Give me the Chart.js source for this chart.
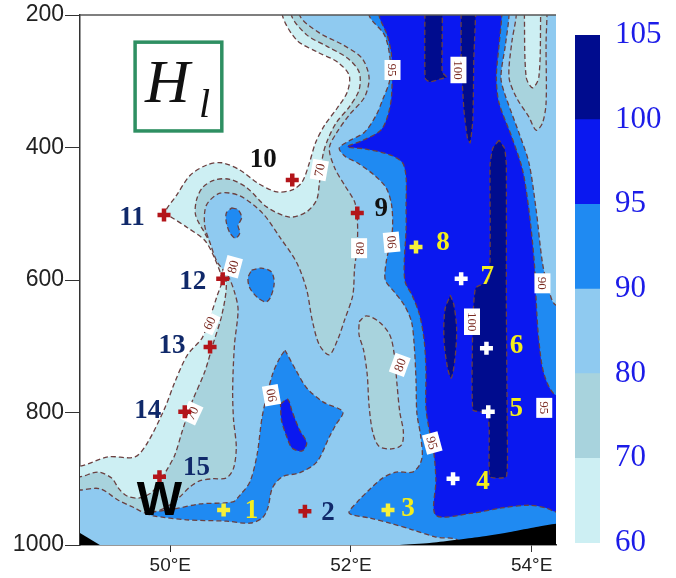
<!DOCTYPE html>
<html>
<head>
<meta charset="utf-8">
<script src="https://cdn.jsdelivr.net/npm/chart.js@4.4.1/dist/chart.umd.min.js"></script>
<style>
  html, body { margin: 0; padding: 0; background: #fff; }
  #wrap { position: relative; width: 676px; height: 578px; }
  #map { position: absolute; left: 0; top: 0; }
  #bar { position: absolute; left: 575px; top: 0; }
</style>
</head>
<body>
<div id="wrap">
  <canvas id="map" width="676" height="578"></canvas>
  <canvas id="bar" width="101" height="578"></canvas>
</div>
<script>
// colour levels of the shading
const levels = [60, 70, 80, 90, 95, 100, 105];
const levelColors = ['#cdeff3', '#a8d3dd', '#8fcaf0', '#1f8af2', '#0a18f0', '#000c8e'];
const xTicks = [50, 52, 54];
const yTicks = [200, 400, 600, 800, 1000];

// filled contour outlines, [lon °E, pressure]
const area60 = [[51.24,150],[51.24,200],[51.40,238],[51.63,256],[51.85,271],[51.98,291],[51.96,316],[51.85,340],[51.71,366],[51.61,392],[51.54,423],[51.46,452],[51.35,464],[51.18,467],[50.97,454],[50.77,434],[50.57,423],[50.41,426],[50.22,442],[50.07,472],[49.94,499],[50.02,506],[50.19,521],[50.38,540],[50.49,567],[50.57,600],[50.52,623],[50.41,668],[50.35,688],[50.19,713],[50.05,754],[49.94,793],[49.75,845],[49.61,867],[49.31,867],[49.00,881],[48.70,881],[48.70,1050],[54.60,1050],[54.60,150],[51.24,150]];
const area70 = [[51.34,150],[51.34,200],[51.51,230],[51.73,247],[51.96,265],[52.09,286],[52.09,313],[51.98,339],[51.84,362],[51.74,389],[51.69,411],[51.65,454],[51.62,479],[51.51,497],[51.32,505],[51.07,490],[50.85,461],[50.66,448],[50.49,449],[50.36,460],[50.29,479],[50.28,502],[50.38,529],[50.49,555],[50.57,580],[50.62,608],[50.57,653],[50.47,698],[50.38,739],[50.24,784],[50.13,829],[50.05,864],[49.96,887],[49.88,905],[49.80,920],[49.66,929],[49.52,926],[49.43,915],[49.35,899],[49.20,890],[49.00,897],[48.70,897],[48.70,1050],[54.60,1050],[54.60,150],[51.34,150]];
const area80 = [[51.43,150],[51.43,200],[51.65,227],[51.91,245],[52.12,265],[52.20,294],[52.15,324],[51.98,351],[51.84,378],[51.76,401],[51.82,431],[51.93,457],[52.04,482],[52.07,506],[52.07,547],[52.04,582],[52.02,623],[51.93,660],[51.85,691],[51.76,713],[51.65,698],[51.57,660],[51.51,615],[51.40,574],[51.21,535],[51.02,499],[50.77,473],[50.55,469],[50.40,487],[50.38,517],[50.44,544],[50.52,573],[50.64,594],[50.71,618],[50.75,645],[50.71,698],[50.69,766],[50.70,811],[50.73,852],[50.70,884],[50.62,899],[50.47,900],[50.33,903],[50.22,912],[50.10,928],[49.94,944],[49.74,952],[49.59,943],[49.42,932],[49.22,915],[49.00,917],[48.70,917],[48.70,1050],[54.60,1050],[54.60,150],[51.43,150]];
const area90 = [[52.20,150],[52.20,200],[52.37,230],[52.43,263],[52.43,298],[52.35,328],[52.28,351],[52.15,377],[51.98,390],[51.87,401],[51.94,414],[52.07,423],[52.26,442],[52.39,461],[52.45,487],[52.46,522],[52.43,547],[52.39,573],[52.38,600],[52.48,618],[52.59,638],[52.67,663],[52.70,698],[52.72,751],[52.73,801],[52.77,834],[52.79,864],[52.76,879],[52.68,890],[52.50,890],[52.35,899],[52.20,917],[52.07,935],[51.98,952],[52.20,959],[52.43,967],[52.68,977],[52.94,988],[53.20,994],[53.42,1050],[54.60,1050],[54.60,638],[54.27,638],[54.19,615],[54.12,574],[54.05,494],[53.97,423],[53.86,378],[53.70,318],[53.66,294],[53.71,245],[53.75,200],[53.75,150],[52.20,150]];
const area90b = [[50.68,491],[50.75,494],[50.79,506],[50.75,518],[50.77,529],[50.72,537],[50.66,529],[50.62,513],[50.62,499],[50.68,491]];
const area90c = [[50.90,585],[51.01,582],[51.12,588],[51.15,605],[51.11,626],[51.06,633],[50.97,627],[50.88,612],[50.86,597],[50.90,585]];
const area90d = [[51.27,706],[51.39,736],[51.51,763],[51.69,784],[51.91,799],[51.83,819],[51.76,837],[51.62,875],[51.43,891],[51.24,897],[51.13,914],[51.08,944],[51.02,959],[50.88,967],[50.62,964],[50.18,962],[49.81,956],[49.74,952],[50.03,946],[50.33,938],[50.69,935],[50.77,925],[50.88,905],[50.96,864],[51.02,804],[51.13,743],[51.21,718],[51.27,706]];
const area95 = [[52.31,150],[52.31,200],[52.40,230],[52.45,263],[52.45,321],[52.41,351],[52.33,374],[52.12,390],[51.96,399],[52.15,402],[52.43,411],[52.57,423],[52.61,445],[52.61,487],[52.61,525],[52.59,573],[52.60,603],[52.68,624],[52.76,653],[52.81,691],[52.83,736],[52.83,793],[52.87,829],[52.92,864],[52.94,902],[52.94,955],[53.34,952],[53.67,944],[53.97,940],[54.16,944],[54.27,950],[54.60,950],[54.60,774],[54.27,774],[54.14,743],[54.08,691],[54.05,630],[54.03,574],[53.97,494],[53.90,434],[53.78,384],[53.64,333],[53.61,294],[53.64,245],[53.67,200],[53.67,150],[52.31,150]];
const area95b = [[51.22,787],[51.30,780],[51.35,799],[51.43,826],[51.51,846],[51.46,858],[51.35,854],[51.29,837],[51.23,811],[51.22,787]];
const area100a = [[52.82,150],[52.82,295],[52.87,301],[52.98,297],[53.06,294],[53.01,286],[53.00,150],[52.82,150]];
const area100b = [[53.22,150],[53.22,268],[53.25,343],[53.29,386],[53.32,393],[53.35,358],[53.36,268],[53.38,150],[53.22,150]];
const area100c = [[53.64,389],[53.57,401],[53.54,426],[53.53,600],[53.38,612],[53.35,660],[53.35,796],[53.51,801],[53.53,826],[53.54,897],[53.72,897],[53.73,826],[53.72,630],[53.72,426],[53.70,401],[53.64,389]];
const area100d = [[53.10,623],[53.14,638],[53.17,675],[53.15,721],[53.11,748],[53.07,733],[53.03,691],[53.04,645],[53.10,623]];
// closed lows painted over the higher shading
const low80 = [[52.09,663],[52.17,654],[52.31,663],[52.43,683],[52.48,713],[52.51,758],[52.54,799],[52.58,829],[52.56,849],[52.45,855],[52.31,851],[52.24,829],[52.20,789],[52.18,743],[52.14,706],[52.09,683],[52.09,663]];
const low80r = [[53.83,150],[53.83,200],[53.78,242],[53.75,294],[53.83,324],[53.97,354],[54.05,374],[54.12,363],[54.16,333],[54.16,242],[54.17,200],[54.17,150],[53.83,150]];
const low70r = [[53.92,150],[53.92,200],[53.94,294],[54.01,310],[54.08,294],[54.10,200],[54.10,150],[53.92,150]];
// terrain
const groundR = [[52.54,1000],[52.87,997],[53.42,988],[53.78,980],[54.05,973],[54.27,968],[54.60,968],[54.60,1050],[52.54,1050],[52.54,1000]];
const groundL = [[49.00,982],[49.22,1000],[49.22,1050],[48.70,1050],[48.70,982],[49.00,982]];

// stations
const stationNames = ['1','2','3','4','5','6','7','8','9','10','11','12','13','14','15'];
const stationLon = [50.59, 51.49, 52.41, 53.13, 53.52, 53.50, 53.22, 52.72, 52.07, 51.35, 49.93, 50.58, 50.44, 50.16, 49.88];
const stationP = [947, 949, 947, 900, 799, 703, 598, 550, 499, 449, 502, 598, 701, 799, 897];
const stationKind = ['y','r','y','w','w','w','w','y','r','r','r','r','r','r','r'];
const nameDx = [28, 23, 20, 30, 28, 30, 26, 27, 24, -29, -32, -30, -38, -37, 37];
const nameDy = [0, 1, -2, 2, -4, -3, -3, -5, -5, -21, 2, 2, -2, -2, -10];
const nameColor = ['#f4ee1c','#10296a','#f4ee1c','#f4ee1c','#f4ee1c','#f4ee1c','#f4ee1c','#f4ee1c','#111','#111','#10296a','#10296a','#10296a','#10296a','#10296a'];

// contour labels
const ctText = ['95','100','70','80','60','70','90','80','90','80','95','95','100','90'];
const ctLon = [52.46, 53.19, 51.65, 50.69, 50.43, 50.24, 52.45, 52.09, 51.12, 52.54, 52.90, 54.14, 53.34, 54.12];
const ctP = [283, 283, 434, 580, 665, 801, 543, 552, 774, 728, 846, 793, 663, 605];
const ctAngle = [90, 90, -80, -75, -65, -65, -95, -90, -100, -70, 75, 90, 90, 90];

const lineColor = '#6b4040';

function area(pts, color, tension, noLine) {
  return {
    type: 'line',
    data: pts.map(([x, y]) => ({ x, y })),
    fill: 'shape',
    backgroundColor: color,
    borderColor: noLine ? 'rgba(0,0,0,0)' : lineColor,
    borderWidth: noLine ? 0 : 1.3,
    borderDash: [5, 3],
    pointRadius: 0,
    pointHoverRadius: 0,
    tension: tension,
    clip: 0,
  };
}

function markers(kind, color) {
  const pts = [];
  stationKind.forEach((k, i) => {
    if (k == kind) pts.push({ x: stationLon[i], y: stationP[i] });
  });
  return {
    type: 'line',
    data: pts,
    showLine: false,
    pointStyle: 'cross',
    pointRadius: 6.5,
    pointHoverRadius: 6.5,
    pointBorderWidth: 4.5,
    pointBorderColor: color,
    pointBackgroundColor: color,
    clip: 0,
  };
}

const c = levelColors;
const datasets = [
  area(area60, c[0], 0.3),
  area(area70, c[1], 0.3),
  area(area80, c[2], 0.3),
  area(area90, c[3], 0.3),
  area(area90b, c[3], 0.3),
  area(area90c, c[3], 0.3),
  area(area90d, c[3], 0.3),
  area(area95, c[4], 0.3),
  area(area95b, c[4], 0.3),
  area(area100a, c[5], 0.15),
  area(area100b, c[5], 0.15),
  area(area100c, c[5], 0.15),
  area(area100d, c[5], 0.3),
  area(low80, c[1], 0.3),
  area(low80r, c[1], 0.3),
  area(low70r, c[0], 0.3),
  area(groundR, '#000', 0.2, true),
  area(groundL, '#000', 0, true),
];
datasets[datasets.length - 1].isLast = true;
datasets.push(markers('r', '#b3151a'), markers('y', '#f5f03a'), markers('w', '#ffffff'));
datasets.forEach((d, i) => { d.order = datasets.length - i; });

const textPlugin = {
  id: 'texts',
  afterDatasetDraw(chart, args) {
    if (!chart.data.datasets[args.index].isLast) return;
    const ctx = chart.ctx, xs = chart.scales.x, ys = chart.scales.y, a = chart.chartArea;
    ctx.save();
    ctx.beginPath();
    ctx.rect(a.left, a.top, a.right - a.left, a.bottom - a.top);
    ctx.clip();
    ctx.font = '13px "Liberation Serif"';
    ctx.textAlign = 'center';
    ctx.textBaseline = 'middle';
    ctText.forEach((t, i) => {
      const w = ctx.measureText(t).width + 7;
      ctx.save();
      ctx.translate(xs.getPixelForValue(ctLon[i]), ys.getPixelForValue(ctP[i]));
      ctx.rotate(ctAngle[i] * Math.PI / 180);
      ctx.fillStyle = '#fff';
      ctx.fillRect(-w / 2, -8, w, 16);
      ctx.fillStyle = '#7a2b22';
      ctx.fillText(t, 0, 1);
      ctx.restore();
    });
    ctx.restore();
  },
  afterDatasetsDraw(chart) {
    const ctx = chart.ctx, xs = chart.scales.x, ys = chart.scales.y, a = chart.chartArea;
    ctx.save();
    // top frame line
    ctx.strokeStyle = '#555';
    ctx.lineWidth = 1.5;
    ctx.beginPath();
    ctx.moveTo(a.left, a.top);
    ctx.lineTo(a.right, a.top);
    ctx.stroke();

    // station numbers
    ctx.font = 'bold 27px "Liberation Serif"';
    ctx.textAlign = 'center';
    ctx.textBaseline = 'middle';
    stationNames.forEach((n, i) => {
      ctx.fillStyle = nameColor[i];
      ctx.fillText(n, xs.getPixelForValue(stationLon[i]) + nameDx[i], ys.getPixelForValue(stationP[i]) + nameDy[i] + 1);
    });

    // W
    ctx.fillStyle = '#000';
    ctx.font = 'bold 48px "Liberation Sans"';
    ctx.textBaseline = 'alphabetic';
    ctx.fillText('W', xs.getPixelForValue(49.88), ys.getPixelForValue(955));

    // H_l panel tag
    const bx = xs.getPixelForValue(49.61), by = ys.getPixelForValue(241);
    const bx2 = xs.getPixelForValue(50.57), by2 = ys.getPixelForValue(375);
    ctx.fillStyle = '#fff';
    ctx.fillRect(bx, by, bx2 - bx, by2 - by);
    ctx.strokeStyle = '#2e8f62';
    ctx.lineWidth = 3.5;
    ctx.strokeRect(bx, by, bx2 - bx, by2 - by);
    ctx.fillStyle = '#111';
    ctx.textAlign = 'left';
    ctx.font = 'italic 62px "Liberation Serif"';
    ctx.fillText('H', bx + 10, by + 60);
    ctx.font = 'italic 40px "Liberation Serif"';
    ctx.fillText('l', bx + 64, by + 75);
    ctx.restore();
  },
};

new Chart(document.getElementById('map'), {
  type: 'line',
  data: { datasets: datasets },
  options: {
    responsive: false,
    animation: false,
    devicePixelRatio: 1,
    events: [],
    layout: { padding: { left: 0, top: 15, right: 120, bottom: 0 } },
    elements: { line: { capBezierPoints: false } },
    plugins: { legend: { display: false }, tooltip: { enabled: false } },
    scales: {
      x: {
        type: 'linear',
        min: 49,
        max: 54.27,
        afterBuildTicks: (s) => { s.ticks = xTicks.map((v) => ({ value: v })); },
        afterFit: (s) => { s.height = 33; },
        ticks: {
          callback: (v) => v + '°E',
          color: '#222',
          font: { family: "'Liberation Sans', sans-serif", size: 19 },
          padding: 2,
          maxRotation: 0,
        },
        grid: { drawOnChartArea: false, tickLength: 7, color: '#333' },
        border: { color: '#333', width: 1.5 },
      },
      y: {
        type: 'linear',
        reverse: true,
        min: 200,
        max: 1000,
        afterBuildTicks: (s) => { s.ticks = yTicks.map((v) => ({ value: v })); },
        afterFit: (s) => { s.width = 80; },
        ticks: {
          callback: (v) => String(v),
          color: '#222',
          font: { family: "'Liberation Sans', sans-serif", size: 23 },
          padding: 1,
        },
        grid: { drawOnChartArea: false, tickLength: 15, color: '#333' },
        border: { color: '#333', width: 1.5 },
      },
    },
  },
  plugins: [textPlugin],
});

// colour bar
new Chart(document.getElementById('bar'), {
  type: 'bar',
  data: {
    labels: [''],
    datasets: levelColors.map((col) => ({
      data: [1],
      backgroundColor: col,
      borderWidth: 0,
      barPercentage: 1,
      categoryPercentage: 1,
    })),
  },
  options: {
    responsive: false,
    animation: false,
    devicePixelRatio: 1,
    events: [],
    layout: { padding: { top: 35, bottom: 35, left: 0, right: 0 } },
    plugins: { legend: { display: false }, tooltip: { enabled: false } },
    scales: {
      x: { stacked: true, display: false },
      y: {
        stacked: true,
        position: 'right',
        min: 0,
        max: 6,
        afterFit: (s) => { s.width = 76; },
        ticks: {
          stepSize: 1,
          padding: 7,
          color: '#1c1ce8',
          font: { family: "'Liberation Serif', serif", size: 31 },
          callback: (v) => levels[v],
        },
        grid: { display: false },
        border: { display: false },
      },
    },
  },
});
</script>
</body>
</html>
